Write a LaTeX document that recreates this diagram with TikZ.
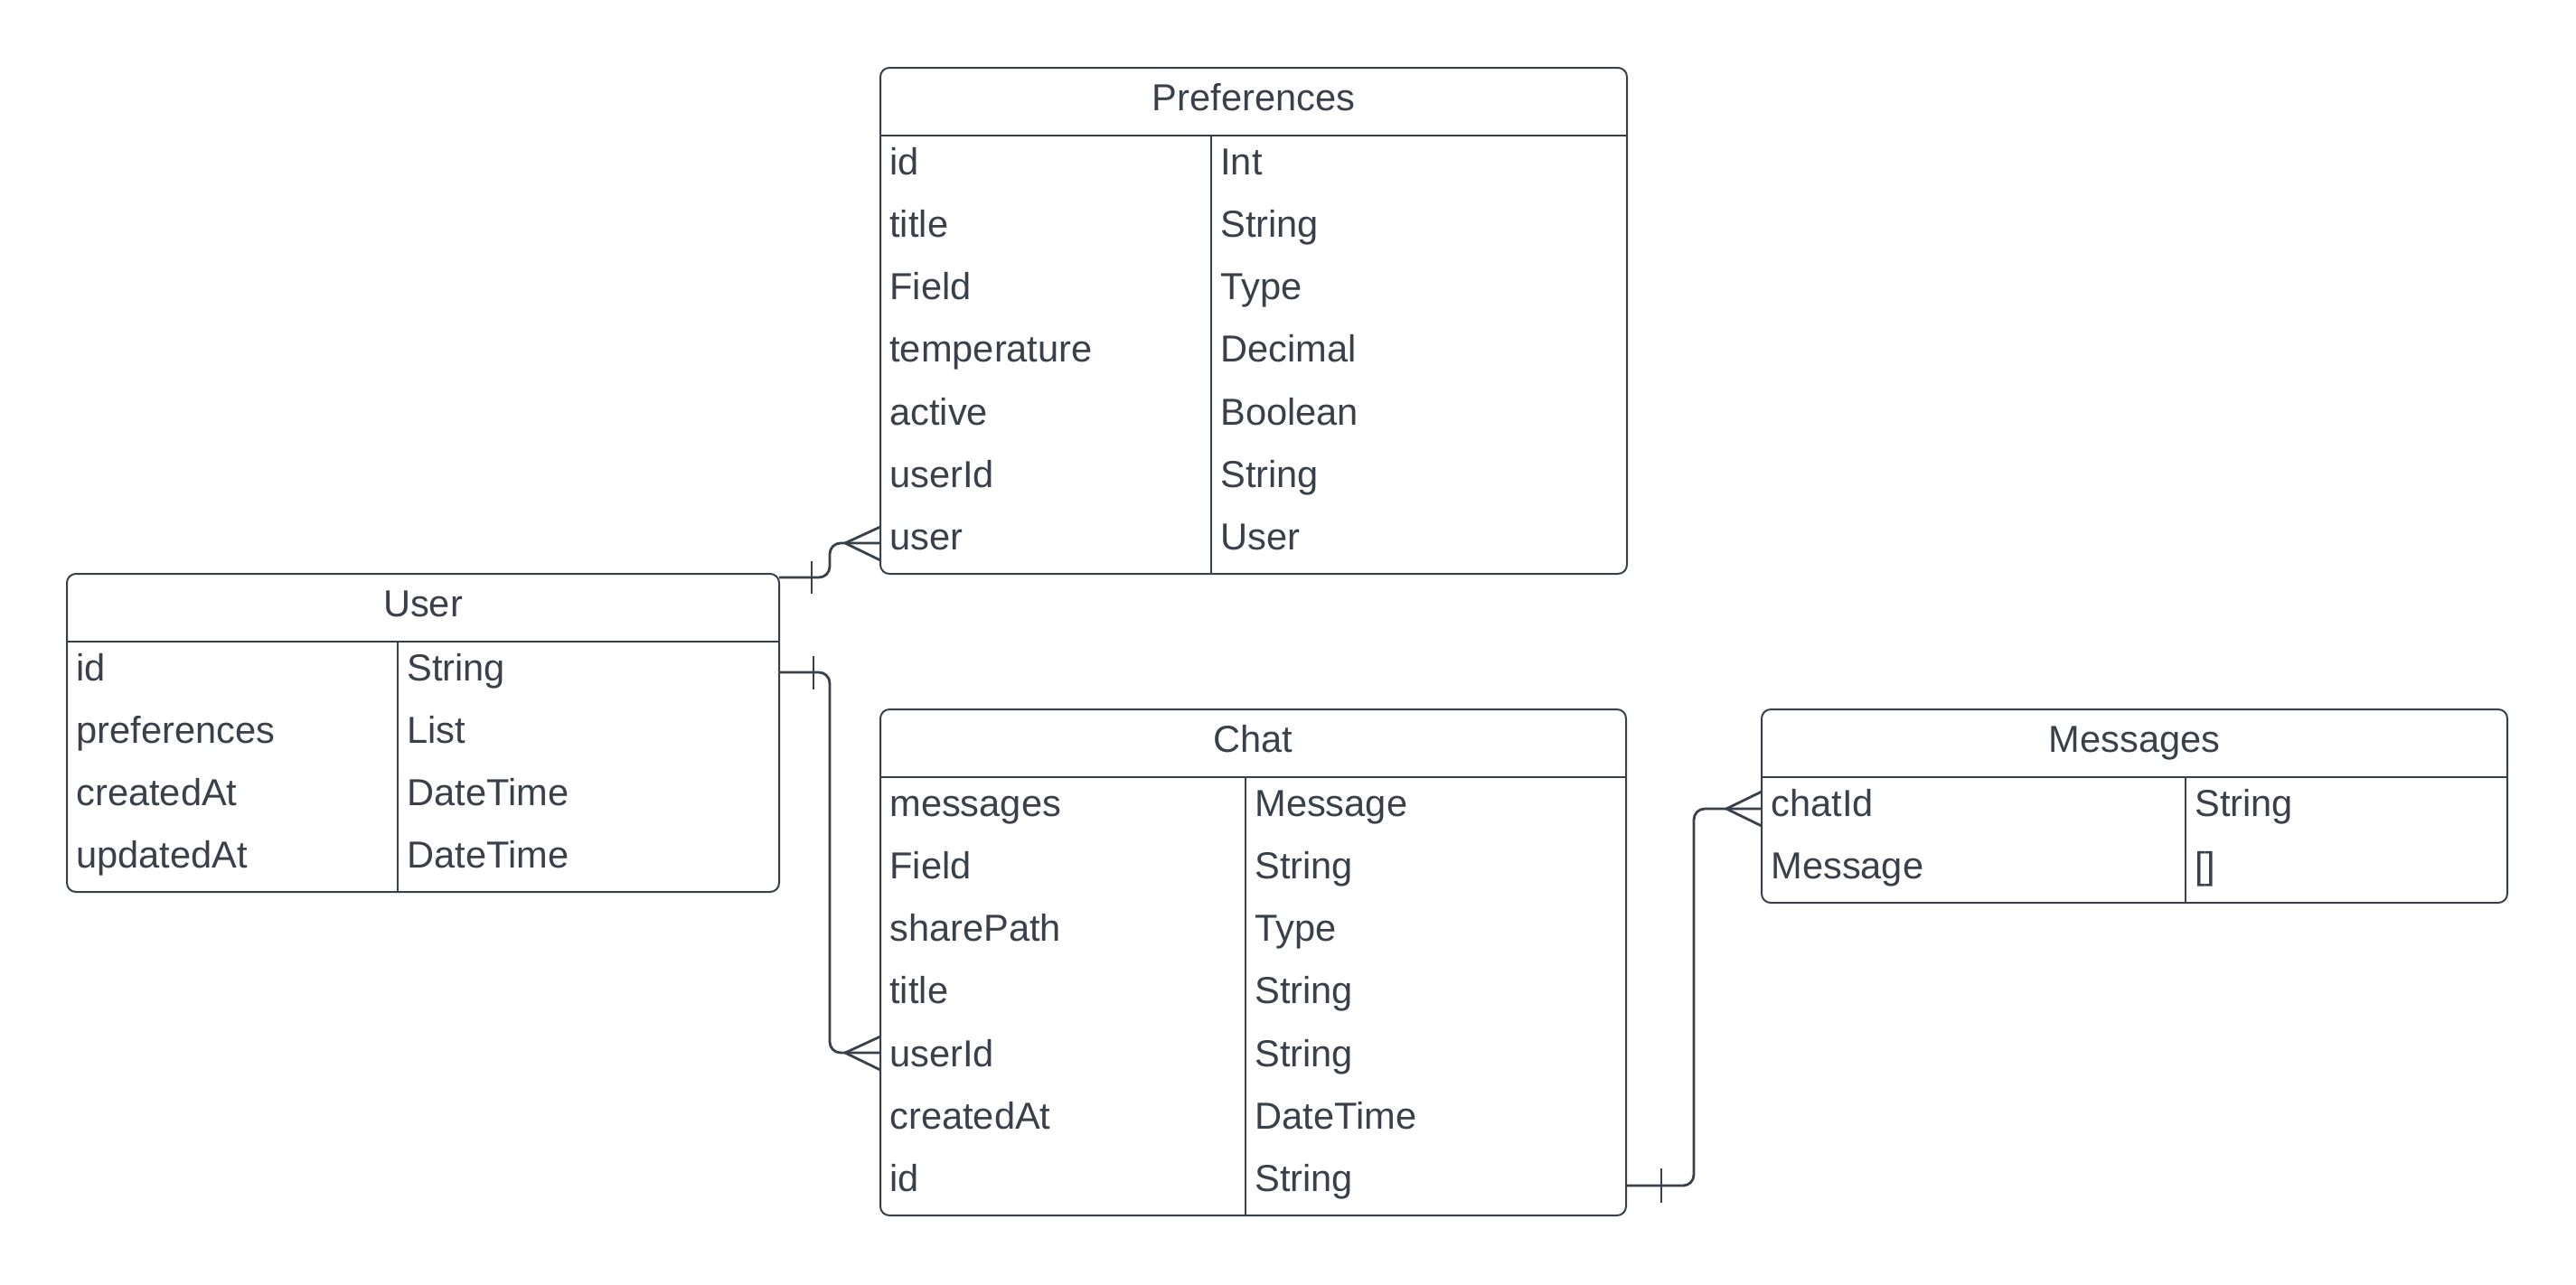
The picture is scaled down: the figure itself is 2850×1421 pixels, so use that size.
\documentclass[tikz,border=0pt]{standalone}
\usepackage{fontspec}
\setmainfont{Liberation Sans}
\definecolor{erc}{RGB}{58,64,74}
\begin{document}
\begin{tikzpicture}[x=0.5pt,y=-0.5pt,
  tbox/.style={draw=erc, line width=1pt, rounded corners=5pt, anchor=north west, inner sep=0pt, outer sep=0pt},
  cell/.style={anchor=base west, inner sep=0pt, text=erc, font=\fontsize{20.8pt}{24pt}\selectfont},
  ttl/.style={anchor=base, inner sep=0pt, text=erc, font=\fontsize{20.8pt}{24pt}\selectfont},
  hsep/.style={draw=erc, line width=1.4pt},
  coldiv/.style={draw=erc, line width=1pt},
  conn/.style={draw=erc, line width=1.4pt, rounded corners=6pt},
  crowline/.style={draw=erc, line width=1.4pt},
  erbar/.style={draw=erc, line width=1.4pt}
]
\useasboundingbox (0,0) rectangle (2850,1421);

% ---------- Preferences ----------
\node[tbox, minimum width=413pt, minimum height=280pt] (pref) at (974,75) {};
\draw[hsep] (974,150) -- (1800,150);
\draw[coldiv] (1340,150) -- (1340,635);
\node[ttl] (preft) at (1387,122) {Preferences};
\foreach \f/\t [count=\i] in {id/Int,title/String,Field/Type,temperature/Decimal,active/Boolean,userId/String,user/User}{
  \node[cell] (pf\i) at (984,{150+69.3*(\i-0.5)+8.4}) {\f};
  \node[cell] (pt\i) at (1350,{150+69.3*(\i-0.5)+8.4}) {\t};
}

% ---------- User ----------
\node[tbox, minimum width=394pt, minimum height=176pt] (user) at (74,635) {};
\draw[hsep] (74,710) -- (862,710);
\draw[coldiv] (440,710) -- (440,987);
\node[ttl] (usertitle) at (468,682) {User};
\foreach \f/\t [count=\i] in {id/String,preferences/List,createdAt/DateTime,updatedAt/DateTime}{
  \node[cell] (uf\i) at (84,{710+69.3*(\i-0.5)+8.4}) {\f};
  \node[cell] (ut\i) at (450,{710+69.3*(\i-0.5)+8.4}) {\t};
}

% ---------- Chat ----------
\node[tbox, minimum width=412.5pt, minimum height=280pt] (chat) at (974,785) {};
\draw[hsep] (974,860) -- (1799,860);
\draw[coldiv] (1378,860) -- (1378,1345);
\node[ttl] (chatt) at (1386.5,832) {Chat};
\foreach \f/\t [count=\i] in {messages/Message,Field/String,sharePath/Type,title/String,userId/String,createdAt/DateTime,id/String}{
  \node[cell] (cf\i) at (984,{860+69.3*(\i-0.5)+8.4}) {\f};
  \node[cell] (ct\i) at (1388,{860+69.3*(\i-0.5)+8.4}) {\t};
}

% ---------- Messages ----------
\node[tbox, minimum width=412.5pt, minimum height=107pt] (msg) at (1949,785) {};
\draw[hsep] (1949,860) -- (2774,860);
\draw[coldiv] (2418,860) -- (2418,999);
\node[ttl] (msgt) at (2361.5,832) {Messages};
\node[cell] (mf1) at (1959,{860+34.65+8.4}) {chatId};
\node[cell] (mt1) at (2428,{860+34.65+8.4}) {String};
\node[cell] (mf2) at (1959,{860+103.95+8.4}) {Message};
\node[cell] (mt2) at (2428,{860+103.95+8.4}) {{[]}};

% ---------- connector endpoints ----------
\coordinate (a1) at (862,639);
\coordinate (a2) at (974,601);
\coordinate (a2x) at (935,601);
\coordinate (b1) at (862,744);
\coordinate (b2) at (974,1165);
\coordinate (b2x) at (935,1165);
\coordinate (c1) at (1799,1312);
\coordinate (c2) at (1949,895);
\coordinate (c2x) at (1910,895);

% User -> Preferences
\draw[conn] (a1) -- (918,639) -- (918,601) -- (a2);
\draw[crowline] (a2x) -- ([yshift=9pt]a2);
\draw[crowline] (a2x) -- ([yshift=-9.5pt]a2);
\draw[erbar] (898,621) -- (898,657);

% User -> Chat
\draw[conn] (b1) -- (918,744) -- (918,1165) -- (b2);
\draw[crowline] (b2x) -- ([yshift=9pt]b2);
\draw[crowline] (b2x) -- ([yshift=-9.5pt]b2);
\draw[erbar] (900,726) -- (900,763);

% Chat -> Messages
\draw[conn] (c1) -- (1874,1312) -- (1874,895) -- (c2);
\draw[crowline] (c2x) -- ([yshift=9.5pt]c2);
\draw[crowline] (c2x) -- ([yshift=-9.5pt]c2);
\draw[erbar] (1838,1293) -- (1838,1331);
\end{tikzpicture}
\end{document}
